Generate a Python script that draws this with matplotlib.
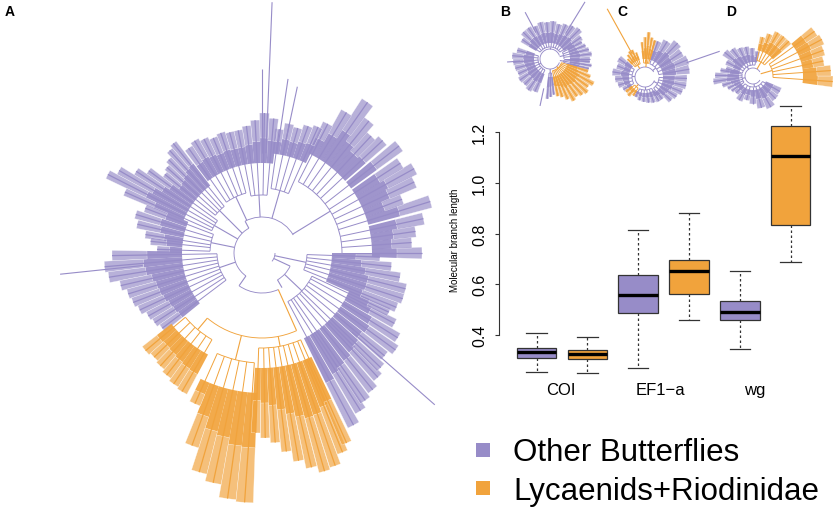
import numpy as np
import matplotlib
matplotlib.use("Agg")
import matplotlib.pyplot as plt
from matplotlib.patches import Rectangle

plt.rcParams["font.family"] = ["Liberation Sans", "DejaVu Sans"]

PURPLE = "#978cc8"
ORANGE = "#f1a33c"
COLS = {"p": PURPLE, "o": ORANGE}

# box plot summaries, order: COI other, COI lyc, EF1-a other, EF1-a lyc, wg other, wg lyc
genes = ["COI", "EF1\u2212a", "wg"]
gene_pos = [1.47, 3.43, 5.30]
groups = ["Other Butterflies", "Lycaenids+Riodinidae"]
whislo = [0.255, 0.250, 0.272, 0.459, 0.346, 0.687]
q1 = [0.310, 0.304, 0.489, 0.563, 0.459, 0.835]
med = [0.334, 0.324, 0.559, 0.653, 0.492, 1.108]
q3 = [0.350, 0.342, 0.637, 0.695, 0.535, 1.224]
whishi = [0.408, 0.393, 0.816, 0.883, 0.653, 1.303]
box_group = ["p", "o", "p", "o", "p", "o"]
yticks = [0.4, 0.6, 0.8, 1.0, 1.2]

# trees: clades (theta1, theta2, stem start r, bracket r, dense r, colour)
# tips (angle deg, tip radius), arcs (r, theta1, theta2, colour), lines (theta, r0, r1, colour)
a_clades = [
    (-62, -25, 31, 55, 95, "p"),
    (-22, -2, 13, 45, 70, "p"),
    (0, 63, 36, 80, 110, "p"),
    (66, 82, 36, 65, 100, "p"),
    (85, 101, 36, 58, 90, "p"),
    (105, 125, 36, 62, 90, "p"),
    (129, 141, 28, 60, 85, "p"),
    (144, 156, 28, 55, 85, "p"),
    (159, 178, 28, 52, 80, "p"),
    (181, 217, 28, 45, 80, "p"),
    (220, 240, 85, 100, 115, "o"),
    (246, 266, 85, 110, 140, "o"),
    (268, 294, 85, 95, 115, "o"),
]
a_tips = [
    [(-62, 195), (-58, 186), (-55, 180), (-51, 176), (-47, 170), (-44, 165),
     (-40, 160), (-36, 165), (-32, 160), (-28, 150), (-25, 140)],
    [(-22, 145), (-18, 148), (-14, 148), (-10, 140), (-6, 130), (-2, 118)],
    [(0, 160), (4, 150), (8, 155), (12, 165), (17, 176), (21, 150), (25, 168),
     (29, 174), (33, 165), (38, 174), (43, 165), (47, 160), (51, 170), (55, 184),
     (59, 164), (63, 145)],
    [(66, 138), (70, 135), (74, 130), (78, 132), (82, 125)],
    [(85, 135), (89, 140), (93, 133), (97, 128), (101, 125)],
    [(105, 125), (109, 127), (113, 125), (117, 128), (121, 131), (125, 128)],
    [(129, 141), (132, 138), (135, 132), (138, 128), (141, 125)],
    [(144, 140), (147, 150), (150, 165), (153, 173), (156, 150)],
    [(159, 125), (163, 132), (167, 128), (171, 118), (174, 112), (178, 105)],
    [(181, 150), (185, 158), (189, 155), (193, 145), (197, 140), (201, 138),
     (205, 135), (209, 130), (213, 128), (217, 125)],
    [(220, 152), (224, 150), (228, 152), (232, 155), (236, 158), (240, 160)],
    [(246, 165), (250, 205), (254, 228), (258, 235), (262, 248), (266, 250)],
    [(268, 180), (271, 185), (274, 190), (277, 200), (280, 211), (283, 220),
     (286, 227), (289, 225), (292, 215), (294, 208)],
]
a_arcs = [(13, 320, 360, "p"), (28, 118, 235, "p"), (36, 30, 118, "p"),
          (40, 235, 294, "p"), (31, 300, 335, "p"), (85, 230, 294, "o")]
a_lines = [(118, 28, 36, "p"), (235, 28, 40, "p"), (300, 31, 40, "p"),
           (335, 13, 31, "p"), (294, 40, 85, "o"),
           (318.7, 120, 230, "p"), (186, 120, 203, "p"), (87.7, 100, 251, "p"),
           (90, 100, 184, "p"), (81.5, 100, 176, "p"), (78, 100, 170, "p")]

b_clades = [
    (35, 145, 10, 12, 16, "p"),
    (165, 245, 10, 12, 16, "p"),
    (266, 276, 10, 14, 18, "p"),
    (0, 28, 10, 14, 20, "p"),
    (346, 356, 10, 14, 20, "p"),
    (282, 342, 10, 12, 18, "o"),
]
b_tips = [
    [(35, 38), (45, 42), (55, 40), (65, 38), (75, 36), (85, 38), (95, 37),
     (105, 38), (115, 36), (125, 38), (135, 38), (145, 34)],
    [(165, 34), (175, 38), (185, 37), (195, 36), (205, 35), (215, 37), (225, 36),
     (235, 38), (245, 36)],
    [(266, 40), (271, 38), (276, 36)],
    [(0, 40), (7, 42), (14, 40), (21, 38), (28, 36)],
    [(346, 40), (351, 42), (356, 40)],
    [(282, 38), (288, 40), (294, 44), (300, 48), (306, 46), (312, 48), (318, 50),
     (324, 47), (330, 50), (336, 44), (342, 40)],
]
b_arcs = [(10, 20, 340, "p")]
b_lines = [(58.5, 30, 67, "p"), (118, 30, 53, "p"), (258, 30, 48, "p"), (184, 30, 43, "p")]

c_clades = [
    (10, 70, 10, 14, 18, "p"),
    (75, 95, 10, 14, 18, "o"),
    (110, 134, 10, 14, 18, "o"),
    (145, 210, 10, 13, 16, "p"),
    (218, 238, 10, 13, 16, "o"),
    (245, 300, 10, 13, 16, "p"),
    (308, 358, 10, 14, 18, "p"),
]
c_tips = [
    [(10, 45), (22, 46), (34, 44), (46, 47), (58, 42), (70, 38)],
    [(75, 38), (80, 40), (85, 45), (90, 40), (95, 35)],
    [(110, 26), (116, 30), (122, 30), (128, 28), (134, 25)],
    [(145, 32), (158, 30), (171, 33), (184, 30), (197, 28), (210, 25)],
    [(218, 24), (228, 25), (238, 22)],
    [(245, 22), (256, 24), (267, 25), (278, 26), (289, 27), (300, 28)],
    [(308, 28), (318, 35), (328, 37), (338, 40), (348, 42), (358, 42)],
]
c_arcs = [(10, 30, 340, "p")]
c_lines = [(19, 44, 79, "p"), (119, 26, 78, "o")]

d_clades = [
    (80, 165, 8, 11, 14, "p"),
    (170, 215, 8, 11, 14, "p"),
    (225, 330, 8, 11, 14, "p"),
    (44, 76, 8, 16, 26, "o"),
    (-4, 36, 8, 20, 50, "o"),
]
d_tips = [
    [(80, 25), (92, 28), (104, 30), (116, 31), (128, 34), (140, 37), (152, 30), (165, 28)],
    [(170, 33), (179, 38), (188, 40), (197, 32), (206, 28), (215, 26)],
    [(225, 24), (240, 28), (255, 25), (270, 28), (285, 33), (300, 36), (315, 32), (330, 31)],
    [(44, 50), (52, 50), (60, 50), (68, 45), (76, 40)],
    [(-4, 80), (4, 78), (12, 72), (20, 75), (28, 78), (36, 76)],
]
d_arcs = [(8, 30, 330, "p")]
d_lines = []

W, H = 839, 510
fig = plt.figure(figsize=(W / 100, H / 100), dpi=100)


def polar_ax(cx, cy, R):
    # square polar axes centred on pixel (cx, cy), radius R px
    return fig.add_axes([(cx - R) / W, (H - cy - R) / H, 2 * R / W, 2 * R / H],
                        projection="polar")


def draw_tree(ax, clades, tips, arcs, lines, rmax):
    for r, t1, t2, c in arcs:
        ax.bar(np.radians((t1 + t2) / 2), 0.9, width=np.radians(t2 - t1),
               bottom=r - 0.45, color=COLS[c], linewidth=0)
    for (t1, t2, s0, rb, rd, c), tp in zip(clades, tips):
        col = COLS[c]
        ang = np.radians([a for a, _ in tp])
        rad = np.array([r for _, r in tp], dtype=float)
        step = np.radians(t2 - t1) / max(len(tp) - 1, 1)
        mid = np.radians((t1 + t2) / 2)
        half = (rad + rd) / 2
        ax.vlines(mid, s0, rb, color=col, lw=0.8)
        ax.bar(mid, 0.9, width=np.radians(t2 - t1), bottom=rb - 0.45,
               color=col, linewidth=0)
        ax.vlines(ang, rb, rd, color=col, lw=0.7)
        # dense inner part of the foliage, sparser outer part, then the tips
        ax.bar(ang, half - rd, width=step, bottom=rd, color=col, alpha=0.92,
               linewidth=0)
        ax.bar(ang, rad - half, width=step, bottom=half, color=col, alpha=0.68,
               edgecolor="white", linewidth=0.3)
        ax.vlines(ang, rd, rad, color=col, lw=0.9)
    for t, r0, r1, c in lines:
        ax.vlines(np.radians(t), r0, r1, color=COLS[c], lw=0.8)
    ax.set_ylim(0, rmax)
    ax.axis("off")


draw_tree(polar_ax(262, 254, 260), a_clades, a_tips, a_arcs, a_lines, 260)
draw_tree(polar_ax(550, 60, 70), b_clades, b_tips, b_arcs, b_lines, 70)
draw_tree(polar_ax(645, 78, 82), c_clades, c_tips, c_arcs, c_lines, 82)
draw_tree(polar_ax(753, 77, 88), d_clades, d_tips, d_arcs, d_lines, 88)

# box plot panel
ax = fig.add_axes([499 / W, (H - 385) / H, 329.2 / W, 288.5 / H])
ax.patch.set_alpha(0)
stats = [dict(med=med[i], q1=q1[i], q3=q3[i], whislo=whislo[i], whishi=whishi[i])
         for i in range(6)]
bp = ax.bxp(stats, positions=range(1, 7), widths=0.78, capwidths=0.4,
            showfliers=False, patch_artist=True,
            boxprops=dict(edgecolor="#333333", linewidth=0.9),
            medianprops=dict(color="black", linewidth=2.4),
            whiskerprops=dict(color="#333333", linewidth=0.9, linestyle=(0, (2, 2))),
            capprops=dict(color="#333333", linewidth=0.9))
for patch, g in zip(bp["boxes"], box_group):
    patch.set_facecolor(COLS[g])

ax.set_xlim(0.26, 6.74)
ax.set_ylim(0.207, 1.345)
for s in ["top", "right", "bottom"]:
    ax.spines[s].set_visible(False)
ax.spines["left"].set_bounds(0.4, 1.2)
ax.spines["left"].set_linewidth(0.8)
ax.spines["left"].set_color("#333333")
ax.set_xticks([])
ax.set_yticks(yticks)
ax.set_yticklabels([f"{v:.1f}" for v in yticks], rotation=90, va="center",
                   fontsize=11.5)
ax.tick_params(axis="y", length=3, width=0.8, color="#333333", pad=5.5)
ax.set_ylabel("Molecular branch length", fontsize=7, va="center")
ax.yaxis.set_label_coords(-0.133, 0.5)
for x, name in zip(gene_pos, genes):
    ax.text(x, -0.0347, name, transform=ax.get_xaxis_transform(),
            ha="center", va="baseline", fontsize=12)

# panel letters
for x, y, lab in [(10, 12, "A"), (505, 12, "B"), (622, 12, "C"), (731, 12, "D")]:
    fig.text(x / W, 1 - y / H, lab, fontsize=10, fontweight="bold",
             ha="center", va="center")

# legend
for (ysq, ytx), name, c in zip([(451, 453), (489, 492)], groups, ["p", "o"]):
    fig.patches.append(Rectangle((476 / W, 1 - (ysq + 7) / H), 14 / W, 14 / H,
                                 transform=fig.transFigure, facecolor=COLS[c],
                                 edgecolor="none"))
    fig.text(513 / W, 1 - ytx / H, name, fontsize=22.5, ha="left", va="center")

fig.savefig("out.png", dpi=100)
